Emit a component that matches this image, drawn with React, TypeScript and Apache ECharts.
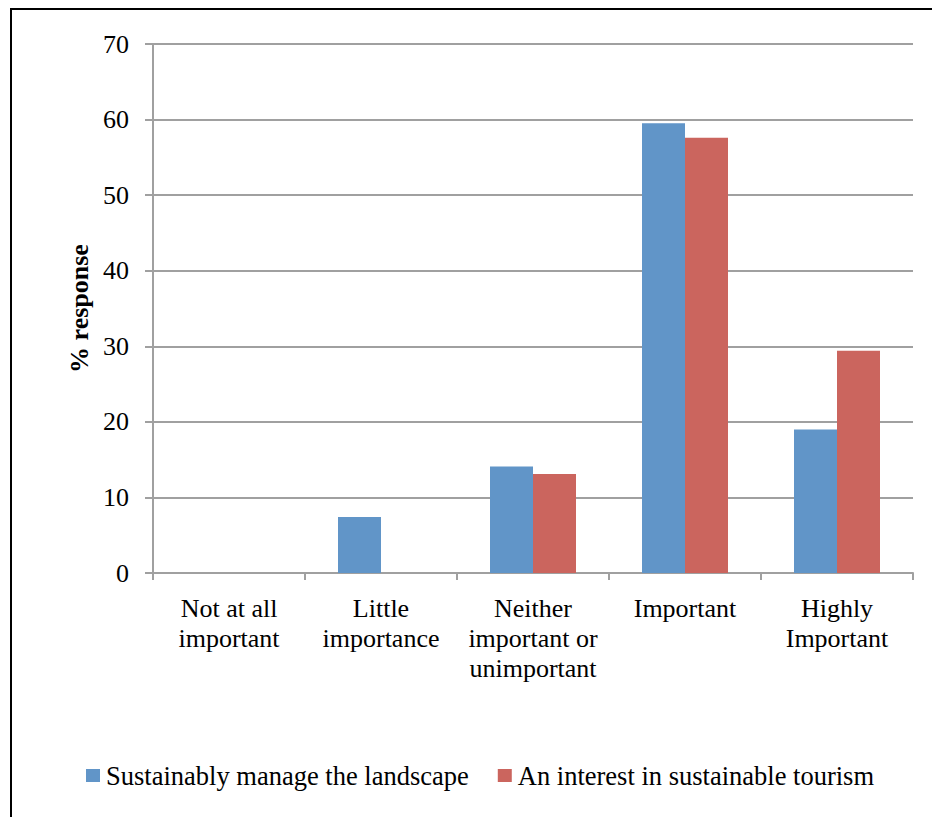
import React, { useEffect, useRef } from "react";
import * as echarts from "echarts";

const categories = [
  "Not at all\nimportant",
  "Little\nimportance",
  "Neither\nimportant or\nunimportant",
  "Important",
  "Highly\nImportant",
];
const seriesNames = [
  "Sustainably manage the landscape",
  "An interest in sustainable tourism",
];
const landscapeValues = [0, 7.4, 14.1, 59.5, 19.0];
const tourismValues = [0, 0, 13.1, 57.6, 29.4];
const yTicks = { min: 0, max: 70, interval: 10 };

const FONT = "'Liberation Serif', 'Times New Roman', serif";

export default function App() {
  const ref = useRef<HTMLDivElement>(null);
  useEffect(() => {
    if (!ref.current) return;
    const chart = echarts.init(ref.current, undefined, { renderer: "svg" });
    const colors = ["#6195C8", "#CB655E"];
    chart.setOption({
      animation: false,
      backgroundColor: "#ffffff",
      textStyle: { fontFamily: FONT },
      graphic: [
        {
          type: "rect",
          shape: { x: 11, y: 9, width: 1000, height: 1000 },
          style: { fill: "none", stroke: "#000", lineWidth: 2 },
          silent: true,
        },
      ],
      grid: { left: 153, right: 19, top: 44, bottom: 244, containLabel: false },
      legend: {
        left: 81,
        top: 757,
        itemWidth: 14,
        itemHeight: 13,
        itemGap: 29,
        icon: "rect",
        textStyle: { fontFamily: FONT, fontSize: 26.5, color: "#000", padding: [0, 0, 0, 1] },
        data: seriesNames,
      },
      xAxis: {
        type: "category",
        data: categories,
        axisLine: { lineStyle: { color: "#A0A0A0", width: 2 } },
        axisTick: { show: true, length: 7, lineStyle: { color: "#A0A0A0", width: 2 } },
        axisLabel: {
          fontFamily: FONT,
          fontSize: 26,
          lineHeight: 30,
          color: "#000",
          margin: 20,
          interval: 0,
        },
      },
      yAxis: {
        type: "value",
        min: yTicks.min,
        max: yTicks.max,
        interval: yTicks.interval,
        name: "% response",
        nameLocation: "middle",
        nameGap: 60,
        nameTextStyle: { fontFamily: FONT, fontSize: 26, fontWeight: "bold", color: "#000" },
        axisLine: { show: true, lineStyle: { color: "#A0A0A0", width: 2 } },
        axisTick: { show: true, length: 8, lineStyle: { color: "#A0A0A0", width: 2 } },
        axisLabel: { fontFamily: FONT, fontSize: 26, color: "#000", margin: 24 },
        splitLine: { show: true, lineStyle: { color: "#A0A0A0", width: 2 } },
      },
      series: [
        {
          name: seriesNames[0],
          type: "bar",
          data: landscapeValues,
          barWidth: 43,
          barGap: "0%",
          itemStyle: { color: colors[0] },
        },
        {
          name: seriesNames[1],
          type: "bar",
          data: tourismValues,
          barWidth: 43,
          barGap: "0%",
          itemStyle: { color: colors[1] },
        },
      ],
    });
    return () => chart.dispose();
  }, []);
  return (
    <div
      ref={ref}
      style={{ position: "fixed", left: 0, top: 0, width: 932, height: 817 }}
    />
  );
}
